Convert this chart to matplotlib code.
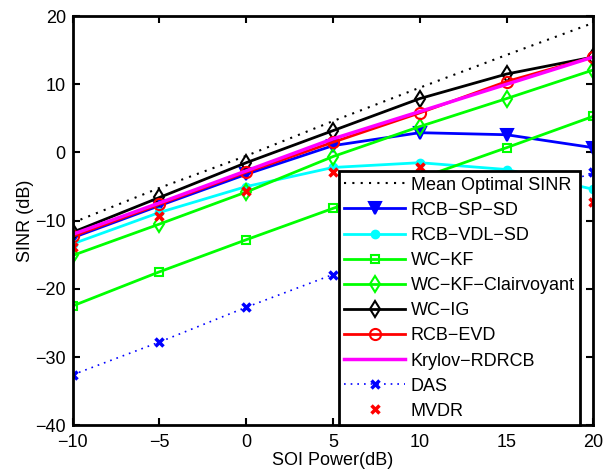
import matplotlib
matplotlib.use("Agg")
import matplotlib.pyplot as plt
import numpy as np

plt.rcParams["font.family"] = ["Liberation Sans", "DejaVu Sans"]

soi_power = [-10, -5, 0, 5, 10, 15, 20]

mean_optimal = [-10.3, -5.2, -0.5, 4.6, 9.5, 14.3, 19.0]
rcb_sp_sd = [-12.5, -7.8, -3.2, 1.0, 2.9, 2.6, 0.7]
rcb_vdl_sd = [-13.4, -8.8, -5.0, -2.2, -1.5, -2.5, -5.4]
wc_kf = [-22.5, -17.5, -12.8, -8.2, -3.8, 0.7, 5.3]
wc_kf_clair = [-15.1, -10.5, -5.8, -0.6, 3.8, 7.9, 12.1]
wc_ig = [-11.7, -6.6, -1.5, 3.2, 7.9, 11.5, 14.0]
rcb_evd = [-12.3, -7.6, -2.9, 1.5, 5.8, 10.4, 14.0]
krylov = [-12.0, -7.4, -2.7, 2.0, 6.0, 10.0, 14.0]
das = [-32.6, -27.8, -22.7, -17.9, -12.9, -7.9, -2.9]
mvdr = [-13.9, -9.3, -5.7, -2.9, -2.2, -4.5, -7.2]


def main():
    fig = plt.figure(figsize=(6.06, 4.73), dpi=100)
    ax = fig.add_axes([0.120, 0.101, 0.859, 0.865])

    lw = 2
    ax.plot(soi_power, mean_optimal, color="black", lw=1.5, ls=(0, (1, 3)),
            label="Mean Optimal SINR")
    ax.plot(soi_power, rcb_sp_sd, "-v", color="blue", lw=lw, ms=8, mew=1.5,
            label="RCB\u2212SP\u2212SD")
    ax.plot(soi_power, rcb_vdl_sd, "-o", color="cyan", lw=lw, ms=6,
            label="RCB\u2212VDL\u2212SD")
    ax.plot(soi_power, wc_kf, "-s", color="#00ff00", lw=lw, ms=6, mew=1.5, mfc="none",
            label="WC\u2212KF")
    ax.plot(soi_power, wc_kf_clair, "-d", color="#00ff00", lw=lw, ms=8, mew=1.5, mfc="none",
            label="WC\u2212KF\u2212Clairvoyant")
    ax.plot(soi_power, wc_ig, "-d", color="black", lw=lw, ms=8, mew=1.5, mfc="none",
            label="WC\u2212IG")
    ax.plot(soi_power, rcb_evd, "-o", color="red", lw=lw, ms=8, mew=1.5, mfc="none",
            label="RCB\u2212EVD")
    ax.plot(soi_power, krylov, "-", color="magenta", lw=2.5, label="Krylov\u2212RDRCB")
    ax.plot(soi_power, das, "x", color="blue", ls=(0, (1, 3)), lw=1.2, ms=6, mew=2.5,
            label="DAS")
    ax.plot(soi_power, mvdr, "x", color="red", ms=6, mew=2.5, label="MVDR")

    ax.set_xlim(-10, 20)
    ax.set_ylim(-40, 20)
    ax.set_xticks([-10, -5, 0, 5, 10, 15, 20])
    ax.set_yticks([-40, -30, -20, -10, 0, 10, 20])
    ax.set_xticklabels(["\u221210", "\u22125", "0", "5", "10", "15", "20"])
    ax.set_yticklabels(["\u221240", "\u221230", "\u221220", "\u221210", "0", "10", "20"])
    ax.tick_params(direction="in", top=True, right=True, labelsize=13, length=5, width=1.5)
    ax.tick_params(axis="x", pad=6)
    ax.tick_params(axis="y", pad=5)
    for s in ax.spines.values():
        s.set_linewidth(2)
    ax.set_xlabel("SOI Power(dB)", fontsize=13, labelpad=1)
    ax.set_ylabel("SINR (dB)", fontsize=13, labelpad=1)

    leg = ax.legend(loc="lower right", bbox_to_anchor=(0.975, 0.0), borderaxespad=0,
                    fontsize=13, numpoints=1, handlelength=3.4, labelspacing=0.45,
                    fancybox=False, framealpha=1, edgecolor="black",
                    borderpad=0.3, handletextpad=0.3)
    leg.get_frame().set_linewidth(2)

    fig.savefig("out.png", dpi=100)


if __name__ == "__main__":
    main()
